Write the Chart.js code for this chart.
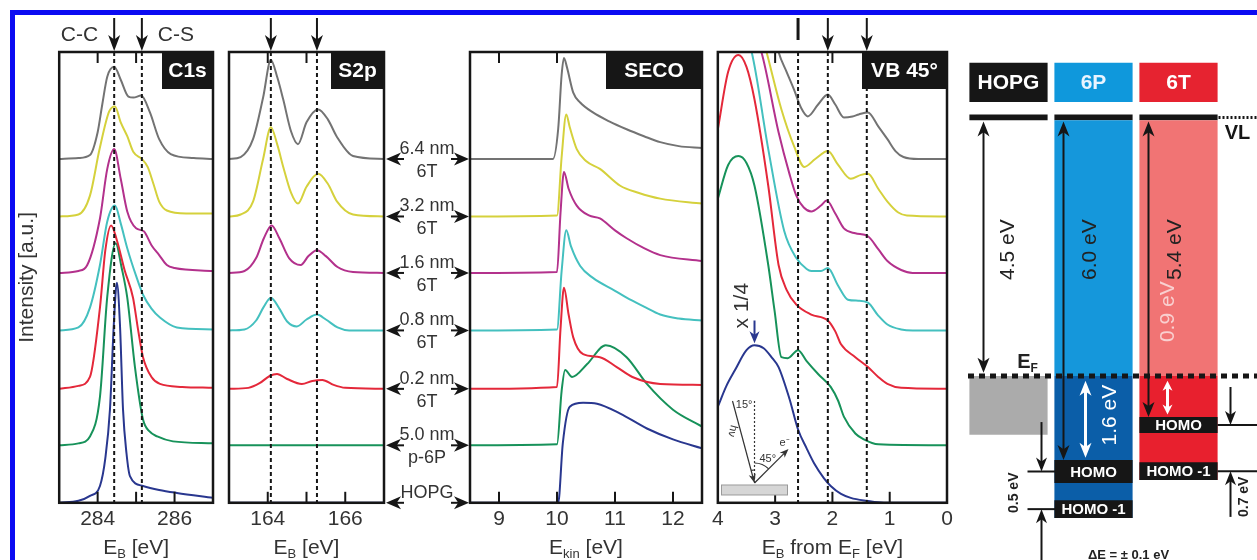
<!DOCTYPE html>
<html>
<head>
<meta charset="utf-8" />
<title>6T on p-6P / HOPG - XPS and UPS</title>
<script src="https://cdn.jsdelivr.net/npm/chart.js@4.4.1/dist/chart.umd.min.js"></script>
<style>
  body { margin: 0; background: #fff; }
  #wrapper { position: relative; width: 1257px; height: 560px; overflow: hidden; background: #fff; }
  #border { position: absolute; left: 10px; top: 10px; width: 1400px; height: 700px; border-top: 5px solid #0b0bf2; border-left: 5px solid #0b0bf2; }
  canvas { position: absolute; top: 15px; }
</style>
</head>
<body>
<div id="wrapper">
  <div id="border"></div>
  <canvas id="c1sChart" width="207" height="545" style="left:15px"></canvas>
  <canvas id="s2pChart" width="248" height="545" style="left:222px"></canvas>
  <canvas id="secoChart" width="245" height="545" style="left:465px"></canvas>
  <canvas id="vbChart" width="252" height="545" style="left:708px"></canvas>
  <canvas id="levelChart" width="297" height="545" style="left:960px"></canvas>
</div>
<script>
// stacked spectra, top to bottom
const samples = ['6.4 nm', '3.2 nm', '1.6 nm', '0.8 nm', '0.2 nm', '5.0 nm', 'HOPG'];
const films   = ['6T', '6T', '6T', '6T', '6T', 'p-6P', ''];
const colors  = ['#737373', '#d5d13c', '#b3318c', '#44c0bf', '#e4283a', '#17925a', '#29378f'];
const offsets = [347, 289, 232, 174, 115, 58, 0];

// C1s  [E_B, intensity above own baseline]
const c1sRange  = [283, 287];
const c1sTicks  = [284, 285, 286];
const c1sLabels = ['284', '', '286'];
const c1sMarks  = [284.43, 285.15];
const c1sSpectra = [
  [[283,0],[283.5,1],[283.8,4],[284.0,27],[284.12,55],[284.25,83],[284.43,93],[284.6,80],[284.8,63],[284.93,62],[285.13,64],[285.36,47],[285.6,20],[285.9,5],[286.5,1],[287,0]],
  [[283,0],[283.5,2],[283.8,21],[284.05,68],[284.3,106],[284.45,111],[284.6,95],[284.77,81],[284.93,65],[285.15,58],[285.3,50],[285.45,33],[285.6,15],[285.8,6],[286.3,3],[287,3]],
  [[283,0],[283.5,2],[283.73,8],[284.06,55],[284.25,105],[284.43,125],[284.6,95],[284.77,62],[285.0,45],[285.2,42],[285.4,28],[285.6,18],[285.8,8],[286,5],[287,2]],
  [[283,0],[283.5,3],[283.8,23],[284.06,66],[284.25,110],[284.45,126],[284.6,108],[284.77,83],[285.0,55],[285.18,36],[285.4,22],[285.62,13],[286.06,3],[287,1]],
  [[283,0],[283.5,3],[283.8,12],[284.06,82],[284.2,140],[284.35,165],[284.5,150],[284.7,120],[284.92,92],[285.05,60],[285.18,32],[285.4,12],[285.62,5],[286.2,2],[287,1]],
  [[283,0],[283.5,2],[283.8,9],[284.06,49],[284.25,150],[284.47,204],[284.62,180],[284.77,149],[284.97,79],[285.18,26],[285.35,14],[285.55,9],[285.96,4],[287,2]],
  [[283,0],[283.5,2],[283.8,7],[284.06,17],[284.2,45],[284.32,94],[284.42,180],[284.5,222],[284.58,180],[284.66,94],[284.75,50],[284.84,27],[285.18,17],[285.6,13],[286.06,10],[287,5]]
];

// S2p
const s2pRange  = [163, 167];
const s2pTicks  = [164, 165, 166];
const s2pLabels = ['164', '', '166'];
const s2pMarks  = [164.08, 165.27];
const s2pSpectra = [
  [[163,0],[163.3,2],[163.62,20],[163.88,62],[164.08,100],[164.25,82],[164.4,60],[164.6,28],[164.78,15],[165.0,37],[165.3,50],[165.55,40],[165.79,22],[166.2,3],[167,0]],
  [[163,0],[163.3,2],[163.62,15],[163.88,58],[164.08,90],[164.25,72],[164.4,50],[164.6,24],[164.78,13],[165.0,30],[165.3,43],[165.55,33],[165.79,15],[166.2,2],[167,0]],
  [[163,0],[163.4,2],[163.7,15],[163.9,35],[164.1,48],[164.3,35],[164.55,15],[164.85,8],[165.05,17],[165.27,23],[165.5,17],[165.8,6],[166.2,1],[167,0]],
  [[163,0],[163.4,1],[163.7,10],[163.9,24],[164.08,33],[164.3,22],[164.5,9],[164.75,4],[165.0,11],[165.27,16],[165.5,11],[165.8,3],[166.1,0],[167,0]],
  [[163,0],[163.5,1],[163.8,6],[164.05,13],[164.24,15],[164.5,10],[164.88,5],[165.15,8],[165.41,9],[165.7,4],[166.0,1],[167,0]],
  [[163,0],[167,0]],
  [[163,0],[167,0]]
];

// SECO
const secoRange  = [8.5, 12.5];
const secoTicks  = [9, 10, 11, 12];
const secoLabels = ['9', '10', '11', '12'];
const secoSpectra = [
  [[8.5,0],[9.93,0],[10.02,30],[10.08,85],[10.12,102],[10.17,93],[10.28,67],[10.4,57],[10.62,47],[10.9,38],[11.2,30],[11.5,23],[11.78,17],[12.1,13],[12.5,11]],
  [[8.5,0],[10.0,1],[10.08,60],[10.16,103],[10.22,90],[10.34,68],[10.5,56],[10.74,48],[11.09,31],[11.4,24],[11.78,18],[12.5,13]],
  [[8.5,0],[10.0,1],[10.06,60],[10.12,102],[10.2,85],[10.34,68],[10.55,58],[10.74,55],[11.0,43],[11.2,35],[11.5,25],[11.78,18],[12.5,12]],
  [[8.5,0],[10.0,1],[10.08,60],[10.16,101],[10.24,85],[10.4,65],[10.62,53],[11.0,40],[11.2,33],[11.5,24],[11.78,16],[12.1,12],[12.5,10]],
  [[8.5,0],[10.0,2],[10.06,60],[10.12,102],[10.2,75],[10.28,52],[10.45,35],[10.74,32],[11.03,22],[11.3,12],[11.78,5],[12.5,4]],
  [[8.5,0],[10.0,1],[10.08,55],[10.14,76],[10.26,69],[10.52,82],[10.84,101],[11.2,89],[11.55,62],[12.0,36],[12.5,19]],
  [[8.5,0],[10.02,0],[10.1,60],[10.22,97],[10.45,101],[10.69,100],[11.09,90],[11.55,75],[12.0,64],[12.5,55]]
];

// VB 45 deg (E_B from E_F, axis reversed)
const vbRange  = [0, 4];
const vbTicks  = [4, 3, 2, 1, 0];
const vbLabels = ['4', '3', '2', '1', '0'];
const vbMarks  = [2.6, 2.08, 1.4];
const vbMarkStyle = ['bar', 'arrow', 'arrow'];
const vbSpectra = [
  [[3.4,240],[3.1,150],[2.94,108],[2.8,88],[2.67,70],[2.55,52],[2.43,43],[2.25,55],[2.08,65],[1.95,55],[1.8,42],[1.65,43],[1.54,45],[1.38,47],[1.2,33],[1.04,20],[0.9,8],[0.76,2],[0.5,0],[0,0]],
  [[3.5,240],[3.15,166],[2.89,108],[2.67,71],[2.49,50],[2.3,58],[2.08,66],[1.9,52],[1.68,38],[1.5,42],[1.38,43],[1.2,28],[1.04,15],[0.85,4],[0.7,1],[0,0]],
  [[3.6,270],[3.24,223],[2.94,142],[2.75,100],[2.63,78],[2.5,66],[2.37,62],[2.2,68],[2.1,73],[1.95,60],[1.8,45],[1.6,40],[1.38,37],[1.2,24],[1.04,12],[0.8,3],[0.6,0],[0,0]],
  [[3.7,320],[3.41,281],[3.12,183],[2.84,100],[2.63,73],[2.45,62],[2.37,60],[2.2,60],[2.08,63],[1.9,45],[1.73,31],[1.55,30],[1.38,28],[1.2,15],[1.04,6],[0.8,1],[0.6,0],[0,0]],
  [[4,262],[3.82,320],[3.64,337],[3.5,325],[3.36,292],[3.12,205],[2.94,125],[2.8,100],[2.63,85],[2.37,75],[2.08,69],[1.95,58],[1.85,45],[1.6,32],[1.38,22],[1.2,12],[1.04,5],[0.8,1],[0,0]],
  [[4,249],[3.82,283],[3.64,292],[3.5,285],[3.36,262],[3.12,182],[3.01,136],[2.89,89],[2.78,88],[2.6,96],[2.45,85],[2.25,72],[2.03,59],[1.9,45],[1.8,29],[1.6,12],[1.45,6],[1.2,1],[0,0]],
  [[4,97],[3.85,118],[3.7,134],[3.5,154],[3.36,159],[3.2,156],[3.05,146],[2.94,137],[2.75,105],[2.6,74],[2.45,55],[2.32,40],[2.15,25],[2.03,17],[1.85,9],[1.68,5],[1.4,2],[1.1,0],[0,0]]
];

// energy level diagram, eV below vacuum level
const columns     = ['HOPG', '6P', '6T'];
const headerBox   = [[-0.95, -0.27], [-0.95, -0.27], [-0.95, -0.27]];
const vacuumBar   = [[-0.05, 0.05], [-0.05, 0.05], [-0.05, 0.05]];
const aboveFermi  = [null, [0.05, 4.5], [0.05, 4.5]];
const belowFermi  = [[4.5, 5.52], [4.5, 6.97], [4.5, 6.31]];
const homoBox     = [null, [5.96, 6.36], [5.21, 5.49]];
const homo1Box    = [null, [6.66, 6.97], [6.0, 6.31]];
const fermiLevel  = 4.5;

const FONT = "'Liberation Sans', Arial, Helvetica, sans-serif";
Chart.defaults.font.family = FONT;
Chart.defaults.color = '#333';
const INK = '#161616';

function head(ctx, x, y, ang, len, half) {
  ctx.save();
  ctx.translate(x, y);
  ctx.rotate(ang);
  ctx.beginPath();
  ctx.moveTo(0, 0);
  ctx.lineTo(-len, -half);
  ctx.lineTo(-len * 0.72, 0);
  ctx.lineTo(-len, half);
  ctx.closePath();
  ctx.fill();
  ctx.restore();
}

function drawArrow(ctx, x1, y1, x2, y2, both, len, half) {
  len = len || 13; half = half || 5.5;
  const ang = Math.atan2(y2 - y1, x2 - x1);
  const c = Math.cos(ang), s = Math.sin(ang);
  ctx.beginPath();
  ctx.moveTo(both ? x1 + c * len * 0.6 : x1, both ? y1 + s * len * 0.6 : y1);
  ctx.lineTo(x2 - c * len * 0.6, y2 - s * len * 0.6);
  ctx.stroke();
  head(ctx, x2, y2, ang, len, half);
  if (both) head(ctx, x1, y1, ang + Math.PI, len, half);
}

function vline(ctx, x, y1, y2) {
  ctx.beginPath(); ctx.moveTo(x, y1); ctx.lineTo(x, y2); ctx.stroke();
}

function hline(ctx, x1, x2, y) {
  ctx.beginPath(); ctx.moveTo(x1, y); ctx.lineTo(x2, y); ctx.stroke();
}

// text made of [string, isSubscript] parts, centred on cx
function subText(ctx, parts, cx, y, size, weight) {
  const big = (weight || 'normal') + ' ' + size + 'px ' + FONT;
  const small = (weight || 'normal') + ' ' + Math.round(size * 0.6) + 'px ' + FONT;
  let w = 0;
  parts.forEach(p => { ctx.font = p[1] ? small : big; w += ctx.measureText(p[0]).width; });
  let x = cx - w / 2;
  ctx.textAlign = 'left';
  ctx.textBaseline = 'alphabetic';
  parts.forEach(p => {
    ctx.font = p[1] ? small : big;
    ctx.fillText(p[0], x, p[1] ? y + size * 0.22 : y);
    x += ctx.measureText(p[0]).width;
  });
}

function rotText(ctx, txt, x, y, font, color) {
  ctx.save();
  ctx.translate(x, y);
  ctx.rotate(-Math.PI / 2);
  ctx.font = font;
  ctx.fillStyle = color;
  ctx.textAlign = 'center';
  ctx.textBaseline = 'middle';
  ctx.fillText(txt, 0, 0);
  ctx.restore();
}

function panelDecor(cfg) {
  return {
    id: 'panelDecor',
    afterDatasetsDraw(chart) {
      const { ctx, chartArea: a, scales: { x, y } } = chart;
      ctx.save();
      ctx.strokeStyle = INK;
      ctx.fillStyle = INK;

      ctx.lineWidth = 2;
      ctx.setLineDash([4, 3]);
      cfg.marks.forEach(m => vline(ctx, x.getPixelForValue(m), a.top, a.bottom));
      ctx.setLineDash([]);

      // ticks point inwards, top and bottom
      x.ticks.forEach(t => {
        if (t.value <= x.min || t.value >= x.max) return;
        const px = x.getPixelForValue(t.value);
        vline(ctx, px, a.top, a.top + 11);
        vline(ctx, px, a.bottom, a.bottom - 11);
      });

      ctx.lineWidth = 2.5;
      ctx.strokeRect(a.left, a.top, a.width, a.height);

      ctx.fillRect(a.right - cfg.boxW, a.top, cfg.boxW, 37);
      ctx.fillStyle = '#fff';
      ctx.font = 'bold 21px ' + FONT;
      ctx.textAlign = 'center';
      ctx.textBaseline = 'middle';
      ctx.fillText(cfg.name, a.right - cfg.boxW / 2, a.top + 19);

      ctx.fillStyle = INK;
      ctx.lineWidth = 2;
      cfg.marks.forEach((m, i) => {
        const px = x.getPixelForValue(m);
        if (cfg.markStyle[i] === 'arrow') drawArrow(ctx, px, 3, px, a.top - 1, false, 16, 6);
        else if (cfg.markStyle[i] === 'bar') { ctx.lineWidth = 3; vline(ctx, px, 3, 25); ctx.lineWidth = 2; }
      });

      ctx.fillStyle = '#333';
      subText(ctx, cfg.title, (a.left + a.right) / 2, a.bottom + 51, 21);

      if (cfg.extra) cfg.extra(ctx, a, x, y);
      ctx.restore();
    }
  };
}

function spectraChart(id, spectra, range, cfg) {
  const datasets = spectra.map((s, i) => ({
    label: samples[i],
    data: s.map(p => ({ x: p[0], y: p[1] + offsets[i] })),
    borderColor: colors[i],
    borderWidth: 2,
    pointRadius: 0,
    cubicInterpolationMode: 'monotone',
    fill: false
  }));
  return new Chart(document.getElementById(id), {
    type: 'line',
    data: { datasets },
    options: {
      responsive: false,
      animation: false,
      events: [],
      layout: { padding: cfg.padding },
      plugins: { legend: { display: false }, tooltip: { enabled: false } },
      scales: {
        x: {
          type: 'linear',
          min: range[0],
          max: range[1],
          reverse: !!cfg.reverse,
          afterBuildTicks: sc => { sc.ticks = cfg.ticks.map(v => ({ value: v })); },
          ticks: { autoSkip: false, maxRotation: 0, padding: 4, font: { size: 21 }, color: '#333',
                   callback: (v, i) => cfg.labels[i] },
          grid: { display: false, drawTicks: false },
          border: { display: false }
        },
        y: {
          min: 0,
          max: 455,
          display: !!cfg.yTitle,
          ticks: { display: false },
          grid: { display: false, drawTicks: false },
          border: { display: false },
          title: { display: !!cfg.yTitle, text: cfg.yTitle, font: { size: 21 }, color: '#333',
                   padding: { top: 0, bottom: 19 } }
        }
      }
    },
    plugins: [panelDecor(cfg)]
  });
}

spectraChart('c1sChart', c1sSpectra, c1sRange, {
  padding: { left: 0, right: 9, top: 37, bottom: 24 },
  ticks: c1sTicks, labels: c1sLabels, marks: c1sMarks, markStyle: ['arrow', 'arrow'],
  name: 'C1s', boxW: 51, yTitle: 'Intensity [a.u.]',
  title: [['E', 0], ['B', 1], [' [eV]', 0]],
  extra(ctx, a, x) {
    ctx.fillStyle = '#333';
    ctx.font = '21px ' + FONT;
    ctx.textBaseline = 'middle';
    ctx.textAlign = 'right';
    ctx.fillText('C-C', x.getPixelForValue(c1sMarks[0]) - 16, 20);
    ctx.textAlign = 'left';
    ctx.fillText('C-S', x.getPixelForValue(c1sMarks[1]) + 16, 20);
  }
});

spectraChart('s2pChart', s2pSpectra, s2pRange, {
  padding: { left: 7, right: 86, top: 37, bottom: 24 },
  ticks: s2pTicks, labels: s2pLabels, marks: s2pMarks, markStyle: ['arrow', 'arrow'],
  name: 'S2p', boxW: 53,
  title: [['E', 0], ['B', 1], [' [eV]', 0]],
  extra(ctx, a, x, y) {
    // sample labels between S2p and SECO
    offsets.forEach((off, i) => {
      const py = y.getPixelForValue(off);
      ctx.fillStyle = INK;
      ctx.strokeStyle = INK;
      ctx.lineWidth = 2;
      drawArrow(ctx, a.right + 20, py, a.right + 2, py, false, 15, 6.5);
      drawArrow(ctx, a.right + 67, py, a.right + 85, py, false, 15, 6.5);
      ctx.fillStyle = '#333';
      ctx.font = '18px ' + FONT;
      ctx.textAlign = 'center';
      ctx.textBaseline = 'middle';
      ctx.fillText(samples[i], a.right + 43, py - 10);
      if (films[i]) ctx.fillText(films[i], a.right + 43, py + 13);
    });
  }
});

spectraChart('secoChart', secoSpectra, secoRange, {
  padding: { left: 5, right: 8, top: 37, bottom: 24 },
  ticks: secoTicks, labels: secoLabels, marks: [], markStyle: [],
  name: 'SECO', boxW: 96,
  title: [['E', 0], ['kin', 1], [' [eV]', 0]]
});

spectraChart('vbChart', vbSpectra, vbRange, {
  padding: { left: 8, right: 13, top: 37, bottom: 24 },
  reverse: true,
  ticks: vbTicks, labels: vbLabels, marks: vbMarks, markStyle: vbMarkStyle,
  name: 'VB 45°', boxW: 85,
  title: [['E', 0], ['B', 1], [' from E', 0], ['F', 1], [' [eV]', 0]],
  extra(ctx, a, x, y) {
    rotText(ctx, 'x 1/4', x.getPixelForValue(3.58), y.getPixelForValue(199), '21px ' + FONT, '#333');
    ctx.strokeStyle = ctx.fillStyle = colors[6];
    ctx.lineWidth = 2;
    const bx = x.getPixelForValue(3.36);
    drawArrow(ctx, bx, y.getPixelForValue(184), bx, y.getPixelForValue(161), false, 12, 5);

    // measurement geometry sketch
    const ox = x.getPixelForValue(3.36), oy = y.getPixelForValue(20);
    ctx.fillStyle = '#d6d6d6';
    ctx.strokeStyle = '#9a9a9a';
    ctx.lineWidth = 1;
    ctx.fillRect(ox - 33, oy + 2, 66, 10);
    ctx.strokeRect(ox - 33, oy + 2, 66, 10);
    ctx.strokeStyle = ctx.fillStyle = '#333';
    ctx.lineWidth = 1.2;
    ctx.setLineDash([2, 2]);
    vline(ctx, ox, oy - 82, oy);
    ctx.setLineDash([]);
    drawArrow(ctx, ox - 22, oy - 82, ox, oy, false, 9, 3.5);
    drawArrow(ctx, ox, oy, ox + 34, oy - 34, false, 9, 3.5);
    ctx.beginPath(); ctx.arc(ox, oy, 20, -Math.PI / 2, -Math.PI / 4); ctx.stroke();
    ctx.beginPath(); ctx.arc(ox, oy, 13, -Math.PI / 2 - Math.PI / 12, -Math.PI / 2); ctx.stroke();
    ctx.font = '11px ' + FONT;
    ctx.textBaseline = 'middle';
    ctx.textAlign = 'right';
    ctx.fillText('15°', ox - 2, oy - 78);
    ctx.textAlign = 'left';
    ctx.fillText('45°', ox + 5, oy - 24);
    ctx.fillText('e⁻', ox + 25, oy - 40);
    ctx.save();
    ctx.translate(ox - 22, oy - 52);
    ctx.rotate(Math.PI / 2 + Math.PI / 12);
    ctx.textAlign = 'center';
    ctx.fillText('hν', 0, 0);
    ctx.restore();
  }
});

// energy level alignment
const levelDecor = {
  id: 'levelDecor',
  afterDatasetsDraw(chart) {
    const { ctx, chartArea: a, scales: { x, y }, width } = chart;
    const cx = i => x.getPixelForValue(i);
    const py = v => y.getPixelForValue(v);
    const mid = r => (r[0] + r[1]) / 2;
    ctx.save();

    ctx.font = 'bold 21px ' + FONT;
    ctx.textAlign = 'center';
    ctx.textBaseline = 'middle';
    ['#fff', '#eaf4ff', '#fff'].forEach((c, i) => {
      ctx.fillStyle = c;
      ctx.fillText(columns[i], cx(i), py(mid(headerBox[i])) + 1);
    });

    // vacuum level continuation and Fermi level
    ctx.strokeStyle = ctx.fillStyle = INK;
    ctx.lineWidth = 3;
    ctx.setLineDash([2, 2]);
    hline(ctx, cx(2) + 40, width, py(0));
    ctx.lineWidth = 5;
    ctx.setLineDash([6, 5]);
    hline(ctx, a.left + 2, width, py(fermiLevel));
    ctx.setLineDash([]);
    ctx.font = 'bold 20px ' + FONT;
    ctx.fillText('VL', cx(2) + 59, py(0.27));
    ctx.fillStyle = '#222';
    subText(ctx, [['E', 0], ['F', 1]], cx(0) + 19, py(4.22) + 8, 20, 'bold');

    // work function and ionisation energies
    ctx.fillStyle = INK;
    ctx.lineWidth = 2;
    drawArrow(ctx, cx(0) - 25, py(0.07), cx(0) - 25, py(fermiLevel - 0.06), true, 15, 6);
    drawArrow(ctx, cx(1) - 30, py(0.07), cx(1) - 30, py(homoBox[1][0]), true, 15, 6);
    drawArrow(ctx, cx(2) - 30, py(0.07), cx(2) - 30, py(homoBox[2][0]), true, 15, 6);
    rotText(ctx, '4.5 eV', cx(0), py(2.3), '21px ' + FONT, '#222');
    rotText(ctx, '6.0 eV', cx(1) - 3, py(2.3), '21px ' + FONT, '#222');
    rotText(ctx, '5.4 eV', cx(2) - 3, py(2.3), '21px ' + FONT, '#222');

    // hole injection barriers
    ctx.strokeStyle = ctx.fillStyle = '#fff';
    ctx.lineWidth = 3;
    drawArrow(ctx, cx(1) - 8, py(fermiLevel + 0.08), cx(1) - 8, py(homoBox[1][0] - 0.04), true, 15, 6);
    drawArrow(ctx, cx(2) - 11, py(fermiLevel + 0.08), cx(2) - 11, py(homoBox[2][0] - 0.04), true, 10, 5);
    rotText(ctx, '1.6 eV', cx(1) + 17, py(5.18), '21px ' + FONT, '#fff');
    rotText(ctx, '0.9 eV', cx(2) - 10, py(3.38), '21px ' + FONT, '#f9d0d0');

    // HOMO labels
    ctx.fillStyle = '#fff';
    ctx.font = 'bold 15px ' + FONT;
    ctx.textAlign = 'center';
    ctx.textBaseline = 'middle';
    [1, 2].forEach(i => {
      ctx.fillText('HOMO', cx(i), py(mid(homoBox[i])) + 1);
      ctx.fillText('HOMO -1', cx(i), py(mid(homo1Box[i])) + 1);
    });

    // HOMO - HOMO-1 spacings
    ctx.strokeStyle = ctx.fillStyle = INK;
    ctx.lineWidth = 2;
    const p1 = py(mid(homoBox[1])), p2 = py(mid(homo1Box[1]));
    hline(ctx, cx(1) - 66, cx(1) - 38, p1);
    hline(ctx, cx(1) - 66, cx(1) - 38, p2);
    drawArrow(ctx, cx(1) - 52, py(5.3), cx(1) - 52, p1, false, 14, 5.5);
    drawArrow(ctx, cx(1) - 52, chart.height, cx(1) - 52, p2, false, 14, 5.5);
    rotText(ctx, '0.5 eV', cx(1) - 79, py(6.53), 'bold 14px ' + FONT, '#222');
    const t1 = py(mid(homoBox[2])), t2 = py(mid(homo1Box[2]));
    hline(ctx, cx(2) + 39, width, t1);
    hline(ctx, cx(2) + 39, width, t2);
    drawArrow(ctx, cx(2) + 52, py(4.69), cx(2) + 52, t1, false, 14, 5.5);
    drawArrow(ctx, cx(2) + 52, py(6.95), cx(2) + 52, t2, false, 14, 5.5);
    rotText(ctx, '0.7 eV', cx(2) + 66, py(6.6), 'bold 14px ' + FONT, '#222');

    ctx.fillStyle = '#222';
    ctx.font = 'bold 13px ' + FONT;
    ctx.textAlign = 'center';
    ctx.textBaseline = 'alphabetic';
    ctx.fillText('\u0394E = \u00b1 0.1 eV', cx(1) + 35, chart.height - 1);
    ctx.restore();
  }
};

const barBase = { grouped: false, barPercentage: 1, categoryPercentage: 0.92, borderWidth: 0, borderSkipped: false };
new Chart(document.getElementById('levelChart'), {
  type: 'bar',
  data: {
    labels: columns,
    datasets: [
      Object.assign({ label: 'HOMO', data: homoBox, backgroundColor: '#161616' }, barBase),
      Object.assign({ label: 'HOMO -1', data: homo1Box, backgroundColor: '#161616' }, barBase),
      Object.assign({ label: 'below EF', data: belowFermi, backgroundColor: ['#ababab', '#0b5ea8', '#e8202e'] }, barBase),
      Object.assign({ label: 'above EF', data: aboveFermi, backgroundColor: ['rgba(0,0,0,0)', '#1597db', '#f17474'] }, barBase),
      Object.assign({ label: 'VL', data: vacuumBar, backgroundColor: '#161616' }, barBase),
      Object.assign({ label: 'header', data: headerBox, backgroundColor: ['#161616', '#0f98dc', '#e62330'] }, barBase)
    ]
  },
  options: {
    responsive: false,
    animation: false,
    events: [],
    layout: { padding: { left: 6, right: 36, top: 45, bottom: 0 } },
    plugins: { legend: { display: false }, tooltip: { enabled: false } },
    scales: {
      x: { type: 'category', display: false, offset: true },
      y: { min: -1, max: 7.7, reverse: true, display: false }
    }
  },
  plugins: [levelDecor]
});
</script>
</body>
</html>
